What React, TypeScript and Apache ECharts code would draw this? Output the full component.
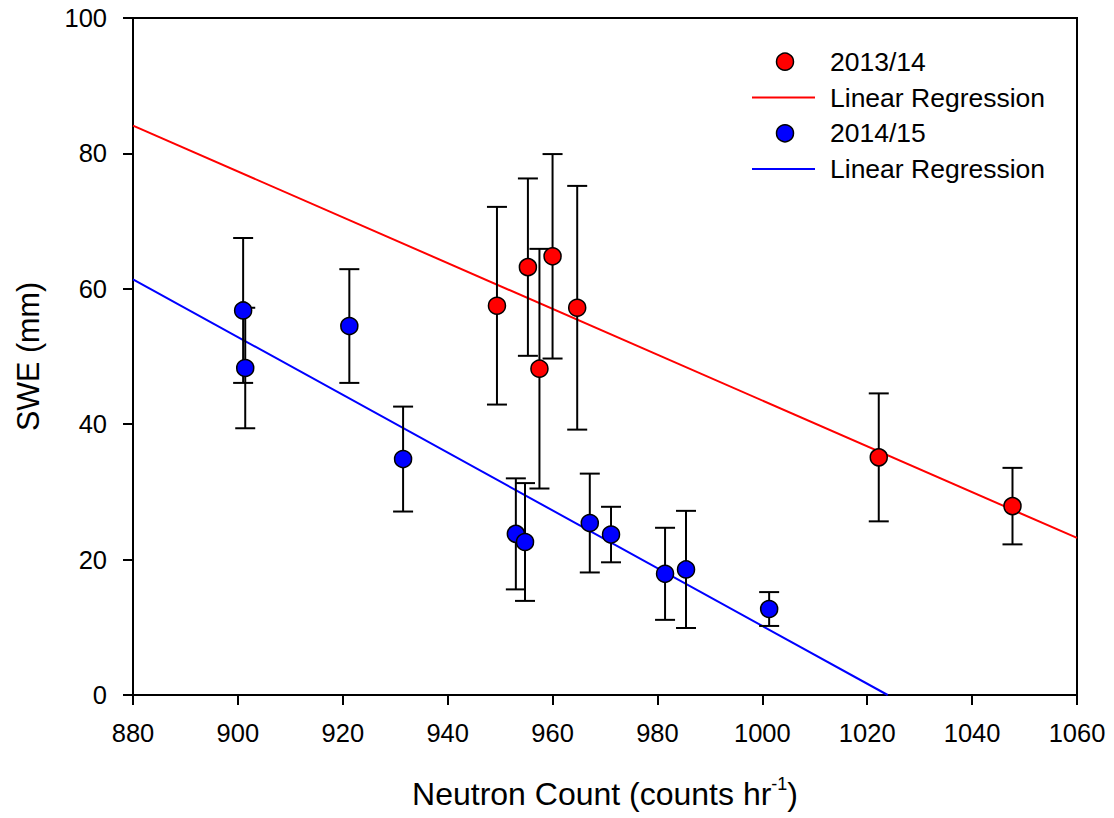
import React, { useEffect, useRef } from "react";
import * as echarts from "echarts";

// 2013/14 season
const redX = [949.4, 955.3, 960.0, 957.5, 964.7, 1022.2, 1047.7];
const redY = [57.5, 63.2, 64.8, 48.2, 57.2, 35.1, 27.9];
const redErr = [14.6, 13.1, 15.1, 17.7, 18.0, 9.45, 5.65];

// 2014/15 season
const blueX = [901.0, 901.4, 921.25, 931.5, 953.0, 954.75, 967.1, 971.15, 981.45, 985.45, 1001.3];
const blueY = [56.8, 48.3, 54.5, 34.85, 23.8, 22.6, 25.4, 23.7, 17.9, 18.55, 12.7];
const blueErr = [10.7, 8.9, 8.4, 7.75, 8.2, 8.7, 7.3, 4.1, 6.8, 8.65, 2.5];

// regression line end points
const redFitX = [880, 1060];
const redFitY = [84.1, 23.2];
const blueFitX = [880, 1023.9];
const blueFitY = [61.4, 0];

const legendNames = ["2013/14", "Linear Regression", "2014/15", "Linear Regression"];

const xTicks = { min: 880, max: 1060, interval: 20 };
const yTicks = { min: 0, max: 100, interval: 20 };

const FONT = "Arial, 'Liberation Sans', sans-serif";

function errorSeries(xs: number[], ys: number[], errs: number[], name: string) {
  const data = xs.map((x, i) => [x, ys[i] - errs[i], ys[i] + errs[i]]);
  return {
    type: "custom",
    name,
    data,
    z: 3,
    encode: { x: 0, y: [1, 2] },
    renderItem: (_params: any, api: any) => {
      const x = api.value(0);
      const lo = api.coord([x, api.value(1)]);
      const hi = api.coord([x, api.value(2)]);
      const hw = 10;
      const style = { stroke: "#000", lineWidth: 2 };
      return {
        type: "group",
        children: [
          { type: "line", shape: { x1: lo[0], y1: lo[1], x2: hi[0], y2: hi[1] }, style },
          { type: "line", shape: { x1: hi[0] - hw, y1: hi[1], x2: hi[0] + hw, y2: hi[1] }, style },
          { type: "line", shape: { x1: lo[0] - hw, y1: lo[1], x2: lo[0] + hw, y2: lo[1] }, style },
        ],
      };
    },
  };
}

function pts(xs: number[], ys: number[]) {
  return xs.map((x, i) => [x, ys[i]]);
}

export default function App() {
  const ref = useRef<HTMLDivElement>(null);
  useEffect(() => {
    if (!ref.current) return;
    const chart = echarts.init(ref.current, undefined, { renderer: "svg" });
    const legX = 752;
    const rows = [61.7, 97.5, 133.3, 169];
    const option: any = {
      animation: false,
      backgroundColor: "#fff",
      grid: {
        left: 133,
        top: 18,
        width: 944,
        height: 681,
        show: true,
        borderColor: "#000",
        borderWidth: 2,
        backgroundColor: "transparent",
      },
      xAxis: {
        type: "value",
        min: xTicks.min,
        max: xTicks.max,
        interval: xTicks.interval,
        name: "Neutron Count (counts hr{sup|-1})",
        nameLocation: "middle",
        nameGap: 80,
        nameTextStyle: {
          fontFamily: FONT,
          fontSize: 32,
          color: "#000",
          lineHeight: 38,
          rich: {
            sup: { fontFamily: FONT, fontSize: 18, color: "#000", verticalAlign: "top", lineHeight: 38 },
          },
        },
        axisLine: { show: true, onZero: false, lineStyle: { color: "#000", width: 2 } },
        axisTick: { show: true, inside: false, length: 10, lineStyle: { color: "#000", width: 2 } },
        axisLabel: {
          margin: 25,
          fontFamily: FONT,
          fontSize: 25.5,
          color: "#000",
          formatter: (v: number) => String(v),
        },
        splitLine: { show: false },
      },
      yAxis: {
        type: "value",
        min: yTicks.min,
        max: yTicks.max,
        interval: yTicks.interval,
        name: "SWE (mm)",
        nameLocation: "middle",
        nameGap: 90,
        nameTextStyle: { fontFamily: FONT, fontSize: 30.5, color: "#000" },
        axisLine: { show: true, onZero: false, lineStyle: { color: "#000", width: 2 } },
        axisTick: { show: true, inside: false, length: 10, lineStyle: { color: "#000", width: 2 } },
        axisLabel: {
          margin: 26,
          fontFamily: FONT,
          fontSize: 25.5,
          color: "#000",
          formatter: (v: number) => String(v),
        },
        splitLine: { show: false },
      },
      series: [
        {
          type: "line",
          name: "redFit",
          data: pts(redFitX, redFitY),
          showSymbol: false,
          symbol: "none",
          lineStyle: { color: "#ff0000", width: 2 },
          z: 2,
        },
        {
          type: "line",
          name: "blueFit",
          data: pts(blueFitX, blueFitY),
          showSymbol: false,
          symbol: "none",
          lineStyle: { color: "#0000ff", width: 2 },
          z: 2,
        },
        errorSeries(redX, redY, redErr, "redErr"),
        errorSeries(blueX, blueY, blueErr, "blueErr"),
        {
          type: "scatter",
          name: legendNames[0],
          data: pts(redX, redY),
          symbol: "circle",
          symbolSize: 17,
          itemStyle: { color: "#ff0000", borderColor: "#000", borderWidth: 1.5, opacity: 1 },
          z: 4,
        },
        {
          type: "scatter",
          name: legendNames[2],
          data: pts(blueX, blueY),
          symbol: "circle",
          symbolSize: 17,
          itemStyle: { color: "#0000ff", borderColor: "#000", borderWidth: 1.5, opacity: 1 },
          z: 4,
        },
      ],
      graphic: [
        { type: "circle", shape: { cx: 785, cy: rows[0], r: 8.5 }, style: { fill: "#ff0000", stroke: "#000", lineWidth: 1.5 }, z: 10 },
        { type: "line", shape: { x1: legX, y1: rows[1], x2: 815, y2: rows[1] }, style: { stroke: "#ff0000", lineWidth: 2 }, z: 10 },
        { type: "circle", shape: { cx: 785, cy: rows[2], r: 8.5 }, style: { fill: "#0000ff", stroke: "#000", lineWidth: 1.5 }, z: 10 },
        { type: "line", shape: { x1: legX, y1: rows[3], x2: 815, y2: rows[3] }, style: { stroke: "#0000ff", lineWidth: 2 }, z: 10 },
        ...legendNames.map((t, i) => ({
          type: "text",
          x: 830,
          y: rows[i],
          z: 10,
          style: { text: t, fontFamily: FONT, fontSize: 26.5, fill: "#000", verticalAlign: "middle", align: "left" },
        })),
      ],
    };
    chart.setOption(option);
    return () => chart.dispose();
  }, []);
  return (
    <div
      ref={ref}
      style={{ position: "fixed", left: 0, top: 0, width: 1114, height: 818, background: "#fff" }}
    />
  );
}
